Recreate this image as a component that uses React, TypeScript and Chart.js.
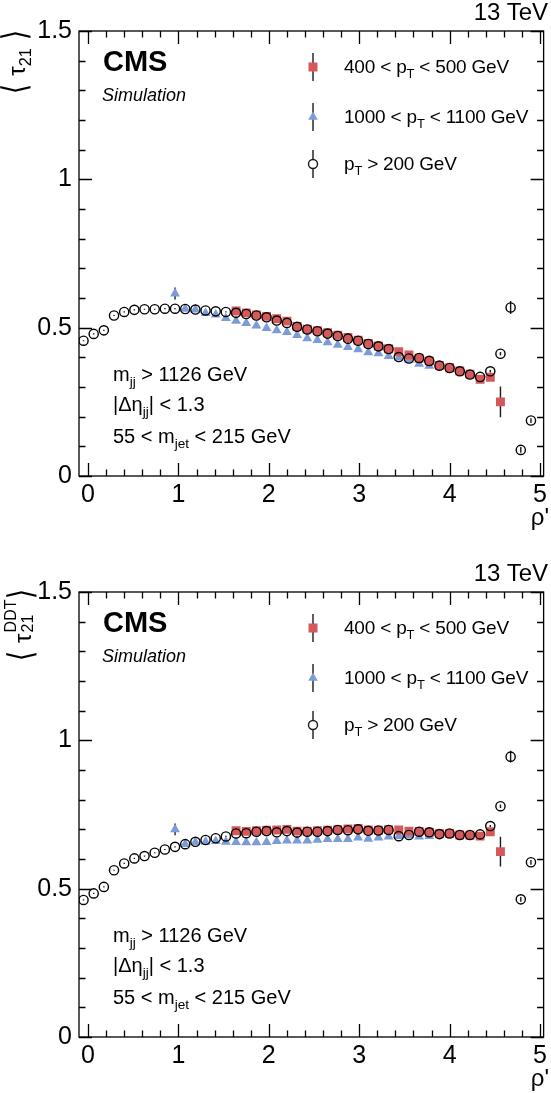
import React, { useEffect, useRef } from 'react';
import { Chart, registerables } from 'chart.js';

Chart.register(...registerables);

// rho' bin centres
const RHO_BINS = [
  -0.05, 0.0625, 0.175, 0.2875, 0.4, 0.5125, 0.625, 0.7375, 0.85, 0.9625,
  1.075, 1.1875, 1.3, 1.4125, 1.525, 1.6375, 1.75, 1.8625, 1.975, 2.0875,
  2.2, 2.3125, 2.425, 2.5375, 2.65, 2.7625, 2.875, 2.9875, 3.1, 3.2125,
  3.325, 3.4375, 3.55, 3.6625, 3.775, 3.8875, 4.0, 4.1125, 4.225, 4.3375,
  4.45, 4.5625, 4.675, 4.7875, 4.9,
];

const X_TICKS = [0, 1, 2, 3, 4, 5];
const Y_TICKS = [0, 0.5, 1, 1.5];
const Y_TICK_LABELS = ['0', '0.5', '1', '1.5'];

// ---- top panel: <tau21> ----
const TOP_INCL = [
  0.456, 0.479, 0.491, 0.541, 0.553, 0.560, 0.562, 0.562, 0.564, 0.564,
  0.563, 0.561, 0.558, 0.555, 0.553, 0.550, 0.546, 0.541, 0.535, 0.524,
  0.516, 0.503, 0.494, 0.488, 0.480, 0.472, 0.463, 0.456, 0.445, 0.437,
  0.428, 0.401, 0.396, 0.398, 0.388, 0.372, 0.364, 0.353, 0.342, 0.334,
  0.353, 0.412, 0.568, 0.088, 0.187,
];
const TOP_INCL_ERR = [
  0.002, 0.002, 0.002, 0.002, 0.002, 0.002, 0.002, 0.002, 0.002, 0.002,
  0.002, 0.002, 0.002, 0.002, 0.002, 0.002, 0.002, 0.002, 0.002, 0.002,
  0.002, 0.002, 0.002, 0.002, 0.002, 0.002, 0.002, 0.002, 0.002, 0.002,
  0.002, 0.002, 0.002, 0.002, 0.002, 0.002, 0.003, 0.003, 0.003, 0.003,
  0.004, 0.006, 0.022, 0.010, 0.008,
];
const TOP_LOW = [
  null, null, null, null, null, null, null, null, null, null,
  null, null, null, null, null, 0.556, 0.550, 0.543, 0.538, 0.530,
  0.522, 0.504, 0.495, 0.490, 0.483, 0.475, 0.467, 0.458, 0.447, 0.438,
  0.429, 0.419, 0.408, 0.397, 0.388, 0.373, 0.365, 0.354, 0.343, 0.326,
  0.333, 0.250, null, null, null,
];
const TOP_LOW_ERR = [
  0, 0, 0, 0, 0, 0, 0, 0, 0, 0,
  0, 0, 0, 0, 0, 0.002, 0.002, 0.002, 0.002, 0.002,
  0.002, 0.002, 0.002, 0.002, 0.002, 0.002, 0.002, 0.002, 0.002, 0.002,
  0.002, 0.003, 0.003, 0.003, 0.003, 0.003, 0.003, 0.003, 0.004, 0.004,
  0.008, 0.052, 0, 0, 0,
];
const TOP_HIGH = [
  null, null, null, null, null, null, null, null, null, 0.615,
  0.563, 0.561, 0.549, 0.544, 0.532, 0.523, 0.515, 0.507, 0.498, 0.491,
  0.485, 0.475, 0.464, 0.458, 0.450, 0.442, 0.434, 0.427, 0.417, 0.413,
  0.404, 0.399, 0.391, 0.378, 0.371, null, null, null, null, null,
  null, null, null, null, null,
];
const TOP_HIGH_ERR = [
  0, 0, 0, 0, 0, 0, 0, 0, 0, 0.02,
  0.003, 0.003, 0.003, 0.003, 0.003, 0.003, 0.003, 0.003, 0.003, 0.003,
  0.003, 0.003, 0.003, 0.003, 0.003, 0.003, 0.003, 0.003, 0.003, 0.003,
  0.003, 0.003, 0.003, 0.003, 0.003, 0, 0, 0, 0, 0,
  0, 0, 0, 0, 0,
];

// ---- bottom panel: <tau21 DDT> ----
const BOT_INCL = [
  0.462, 0.484, 0.506, 0.562, 0.585, 0.602, 0.610, 0.621, 0.632, 0.641,
  0.650, 0.658, 0.664, 0.670, 0.676, 0.686, 0.687, 0.692, 0.694, 0.690,
  0.694, 0.689, 0.692, 0.692, 0.694, 0.698, 0.697, 0.700, 0.695, 0.696,
  0.698, 0.677, 0.681, 0.692, 0.690, 0.684, 0.686, 0.681, 0.681, 0.683,
  0.711, 0.778, 0.945, 0.464, 0.589,
];
const BOT_INCL_ERR = [
  0.002, 0.002, 0.002, 0.002, 0.002, 0.002, 0.002, 0.002, 0.002, 0.002,
  0.002, 0.002, 0.002, 0.002, 0.002, 0.002, 0.002, 0.002, 0.002, 0.002,
  0.002, 0.002, 0.002, 0.002, 0.002, 0.002, 0.002, 0.002, 0.002, 0.002,
  0.002, 0.002, 0.002, 0.002, 0.002, 0.002, 0.003, 0.003, 0.003, 0.003,
  0.004, 0.006, 0.020, 0.008, 0.008,
];
const BOT_LOW = [
  null, null, null, null, null, null, null, null, null, null,
  null, null, null, null, null, 0.695, 0.693, 0.695, 0.697, 0.698,
  0.700, 0.694, 0.694, 0.695, 0.697, 0.699, 0.701, 0.703, 0.698, 0.697,
  0.699, 0.698, 0.694, 0.693, 0.690, 0.685, 0.686, 0.681, 0.680, 0.677,
  0.692, 0.625, null, null, null,
];
const BOT_LOW_ERR = [
  0, 0, 0, 0, 0, 0, 0, 0, 0, 0,
  0, 0, 0, 0, 0, 0.002, 0.002, 0.002, 0.002, 0.002,
  0.002, 0.002, 0.002, 0.002, 0.002, 0.002, 0.002, 0.002, 0.002, 0.002,
  0.002, 0.003, 0.003, 0.003, 0.003, 0.003, 0.003, 0.003, 0.004, 0.004,
  0.008, 0.050, 0, 0, 0,
];
const BOT_HIGH = [
  null, null, null, null, null, null, null, null, null, 0.700,
  0.650, 0.657, 0.658, 0.660, 0.658, 0.657, 0.656, 0.656, 0.657, 0.660,
  0.662, 0.662, 0.662, 0.664, 0.667, 0.667, 0.667, 0.672, 0.668, 0.672,
  0.675, 0.677, 0.680, 0.675, 0.677, null, null, null, null, null,
  null, null, null, null, null,
];
const BOT_HIGH_ERR = [
  0, 0, 0, 0, 0, 0, 0, 0, 0, 0.02,
  0.003, 0.003, 0.003, 0.003, 0.003, 0.003, 0.003, 0.003, 0.003, 0.003,
  0.003, 0.003, 0.003, 0.003, 0.003, 0.003, 0.003, 0.003, 0.003, 0.003,
  0.003, 0.003, 0.003, 0.003, 0.003, 0, 0, 0, 0, 0,
  0, 0, 0, 0, 0,
];

const FONT = "'Liberation Sans', Arial, Helvetica, sans-serif";
const RED = '#d5585b';
const BLUE = '#7b9cd8';
const W = 551;

function buildSeries(vals: (number | null)[], errs: number[]) {
  const pts: { x: number; y: number }[] = [];
  const e: number[] = [];
  vals.forEach((v, i) => {
    if (v != null) {
      pts.push({ x: RHO_BINS[i], y: v });
      e.push(errs[i] || 0);
    }
  });
  return { pts, e };
}

const errorBarPlugin = {
  id: 'errorBars',
  beforeDatasetsDraw(chart: any) {
    const ctx = chart.ctx;
    const ys = chart.scales.y;
    const area = chart.chartArea;
    ctx.save();
    ctx.beginPath();
    ctx.rect(area.left, area.top, area.right - area.left, area.bottom - area.top);
    ctx.clip();
    ctx.strokeStyle = '#1a1a1a';
    ctx.lineWidth = 1.4;
    chart.data.datasets.forEach((ds: any, di: number) => {
      const meta = chart.getDatasetMeta(di);
      (ds.errors || []).forEach((err: number, i: number) => {
        if (!err) return;
        const el = meta.data[i];
        const v = ds.data[i].y;
        ctx.beginPath();
        ctx.moveTo(el.x, ys.getPixelForValue(v - err));
        ctx.lineTo(el.x, ys.getPixelForValue(v + err));
        ctx.stroke();
      });
    });
    ctx.restore();
  },
};

const framePlugin = {
  id: 'frame',
  afterDatasetsDraw(chart: any) {
    const ctx = chart.ctx;
    const { left, right, top, bottom } = chart.chartArea;
    const xs = chart.scales.x;
    const ys = chart.scales.y;
    ctx.save();
    ctx.strokeStyle = '#000';
    ctx.lineWidth = 1.3;
    ctx.strokeRect(left, top, right - left, bottom - top);
    ctx.beginPath();
    for (let k = 0; k <= 25; k++) {
      const v = k * 0.2;
      const px = Math.round(xs.getPixelForValue(v)) + 0.5;
      if (px < left || px > right) continue;
      const len = k % 5 === 0 ? 13 : 6.5;
      ctx.moveTo(px, bottom);
      ctx.lineTo(px, bottom - len);
      ctx.moveTo(px, top);
      ctx.lineTo(px, top + len);
    }
    for (let k = 0; k <= 15; k++) {
      const v = k * 0.1;
      const py = Math.round(ys.getPixelForValue(v)) + 0.5;
      const len = k % 5 === 0 ? 13 : 6.5;
      ctx.moveTo(left, py);
      ctx.lineTo(left + len, py);
      ctx.moveTo(right, py);
      ctx.lineTo(right - len, py);
    }
    ctx.stroke();
    ctx.restore();
  },
};

const legendPlugin = {
  id: 'legendMarks',
  afterDraw(chart: any) {
    const ctx = chart.ctx;
    const x = 313;
    const rows = [67, 117, 164];
    ctx.save();
    ctx.strokeStyle = '#1a1a1a';
    ctx.lineWidth = 1.4;
    rows.forEach((y) => {
      ctx.beginPath();
      ctx.moveTo(x, y - 14);
      ctx.lineTo(x, y + 14);
      ctx.stroke();
    });
    ctx.fillStyle = RED;
    ctx.fillRect(x - 4.5, rows[0] - 4.5, 9, 9);
    ctx.fillStyle = BLUE;
    ctx.beginPath();
    ctx.moveTo(x, rows[1] - 5.5);
    ctx.lineTo(x + 4.8, rows[1] + 2.8);
    ctx.lineTo(x - 4.8, rows[1] + 2.8);
    ctx.closePath();
    ctx.fill();
    ctx.fillStyle = '#fff';
    ctx.beginPath();
    ctx.arc(x, rows[2], 4.5, 0, Math.PI * 2);
    ctx.fill();
    ctx.lineWidth = 1.4;
    ctx.stroke();
    ctx.restore();
  },
};

const Sub = ({ t }: { t: string }) => (
  <span style={{ fontSize: '0.68em', position: 'relative', top: '0.38em' }}>{t}</span>
);

const Bracket = ({ c }: { c: string }) => (
  <span
    style={{
      display: 'inline-block',
      fontSize: 34,
      lineHeight: '24px',
      fontFamily: "'DejaVu Sans', sans-serif",
      fontWeight: 200,
      transform: 'scaleX(0.75)',
      position: 'relative',
      top: 1,
    }}
  >
    {c}
  </span>
);

type PanelProps = {
  top: number;
  height: number;
  incl: (number | null)[];
  inclErr: number[];
  low: (number | null)[];
  lowErr: number[];
  high: (number | null)[];
  highErr: number[];
  ddt: boolean;
};

function Panel(p: PanelProps) {
  const ref = useRef<HTMLCanvasElement>(null);
  useEffect(() => {
    if (!ref.current) return;
    const a = buildSeries(p.incl, p.inclErr);
    const b = buildSeries(p.low, p.lowErr);
    const c = buildSeries(p.high, p.highErr);
    const chart = new Chart(ref.current, {
      type: 'scatter',
      data: {
        datasets: [
          {
            label: 'pT > 200 GeV',
            data: a.pts,
            errors: a.e,
            pointStyle: 'circle',
            pointRadius: 4.6,
            pointHoverRadius: 4.6,
            borderColor: '#000',
            borderWidth: 1.4,
            backgroundColor: 'rgba(0,0,0,0)',
          } as any,
          {
            label: '400 < pT < 500 GeV',
            data: b.pts,
            errors: b.e,
            pointStyle: 'rect',
            pointRadius: 6.3,
            pointHoverRadius: 6.3,
            borderWidth: 0,
            borderColor: RED,
            backgroundColor: RED,
          } as any,
          {
            label: '1000 < pT < 1100 GeV',
            data: c.pts,
            errors: c.e,
            pointStyle: 'triangle',
            pointRadius: 5.7,
            pointHoverRadius: 5.7,
            borderWidth: 0,
            borderColor: BLUE,
            backgroundColor: BLUE,
          } as any,
        ],
      },
      options: {
        animation: false,
        responsive: false,
        devicePixelRatio: 1,
        events: [],
        layout: { padding: { left: 0, right: 3, top: 31, bottom: p.height - 476 - 30 } },
        plugins: { legend: { display: false }, tooltip: { enabled: false } },
        scales: {
          x: {
            type: 'linear',
            min: -0.1,
            max: 5.04,
            afterFit: (s: any) => {
              s.height = 30;
            },
            afterBuildTicks: (s: any) => {
              s.ticks = X_TICKS.map((v) => ({ value: v }));
            },
            grid: { display: false, drawTicks: false },
            border: { display: false },
            ticks: {
              font: { family: FONT, size: 25 },
              color: '#000',
              padding: 4,
              maxRotation: 0,
              autoSkip: false,
              callback: (v: any) => String(v),
            },
          },
          y: {
            type: 'linear',
            min: 0,
            max: 1.5,
            afterFit: (s: any) => {
              s.width = 79;
            },
            afterBuildTicks: (s: any) => {
              s.ticks = Y_TICKS.map((v) => ({ value: v }));
            },
            grid: { display: false, drawTicks: false },
            border: { display: false },
            ticks: {
              font: { family: FONT, size: 25 },
              color: '#000',
              padding: 7,
              callback: (v: any) => {
                const k = Y_TICKS.indexOf(Number(v));
                return k >= 0 ? Y_TICK_LABELS[k] : String(v);
              },
            },
          },
        },
      } as any,
      plugins: [errorBarPlugin, framePlugin, legendPlugin],
    });
    return () => chart.destroy();
  }, []);

  const txt = (extra: React.CSSProperties): React.CSSProperties => ({
    position: 'absolute',
    fontFamily: FONT,
    whiteSpace: 'nowrap',
    color: '#000',
    lineHeight: '24px',
    height: 24,
    ...extra,
  });

  return (
    <div style={{ position: 'absolute', left: 0, top: p.top, width: W, height: p.height }}>
      <canvas ref={ref} width={W} height={p.height} style={{ position: 'absolute', left: 0, top: 0, width: W, height: p.height }} />
      <div
        style={{
          position: 'absolute',
          left: p.ddt ? 21 : 16,
          top: p.ddt ? 64 : 62,
          transform: 'translate(-50%, -50%) rotate(-90deg)',
          fontFamily: FONT,
          fontSize: 24,
          lineHeight: '24px',
          whiteSpace: 'nowrap',
        }}
      >
        {p.ddt ? (
          <span>
            <Bracket c="⟨" /> τ
            <span style={{ position: 'relative', display: 'inline-block', width: 33, height: 24, verticalAlign: 'top' }}>
              <span style={{ position: 'absolute', left: 1, top: -4, fontSize: 16, lineHeight: '16px' }}>DDT</span>
              <span style={{ position: 'absolute', left: 1, top: 13, fontSize: 16, lineHeight: '16px' }}>21</span>
            </span>
            <Bracket c="⟩" />
          </span>
        ) : (
          <span>
            <Bracket c="⟨" /> τ<Sub t="21" /> <Bracket c="⟩" />
          </span>
        )}
      </div>
      <div style={txt({ right: 3, top: 0, fontSize: 24 })}>13 TeV</div>
      <div style={txt({ left: 103, top: 48, fontSize: 29, fontWeight: 'bold', lineHeight: '26px', height: 26 })}>CMS</div>
      <div style={txt({ left: 102, top: 83, fontSize: 18, fontStyle: 'italic' })}>Simulation</div>

      <div style={txt({ left: 344, top: 55, fontSize: 19, letterSpacing: '-0.2px' })}>
        400 &lt; p<Sub t="T" /> &lt; 500 GeV
      </div>
      <div style={txt({ left: 344, top: 105, fontSize: 19, letterSpacing: '-0.2px' })}>
        1000 &lt; p<Sub t="T" /> &lt; 1100 GeV
      </div>
      <div style={txt({ left: 344, top: 152, fontSize: 19, letterSpacing: '-0.2px' })}>
        p<Sub t="T" /> &gt; 200 GeV
      </div>

      <div style={txt({ left: 113, top: 362, fontSize: 20 })}>
        m<Sub t="jj" /> &gt; 1126 GeV
      </div>
      <div style={txt({ left: 113, top: 392, fontSize: 20 })}>
        |Δη<Sub t="jj" />| &lt; 1.3
      </div>
      <div style={txt({ left: 113, top: 424, fontSize: 20 })}>
        55 &lt; m<Sub t="jet" /> &lt; 215 GeV
      </div>

      <div style={txt({ right: 2, top: 505, fontSize: 24 })}>ρ'</div>
    </div>
  );
}

export default function App() {
  return (
    <div style={{ position: 'absolute', left: 0, top: 0, width: W, height: 1093, background: '#fff', overflow: 'hidden' }}>
      <Panel
        top={0}
        height={561}
        incl={TOP_INCL}
        inclErr={TOP_INCL_ERR}
        low={TOP_LOW}
        lowErr={TOP_LOW_ERR}
        high={TOP_HIGH}
        highErr={TOP_HIGH_ERR}
        ddt={false}
      />
      <Panel
        top={561}
        height={532}
        incl={BOT_INCL}
        inclErr={BOT_INCL_ERR}
        low={BOT_LOW}
        lowErr={BOT_LOW_ERR}
        high={BOT_HIGH}
        highErr={BOT_HIGH_ERR}
        ddt={true}
      />
    </div>
  );
}
